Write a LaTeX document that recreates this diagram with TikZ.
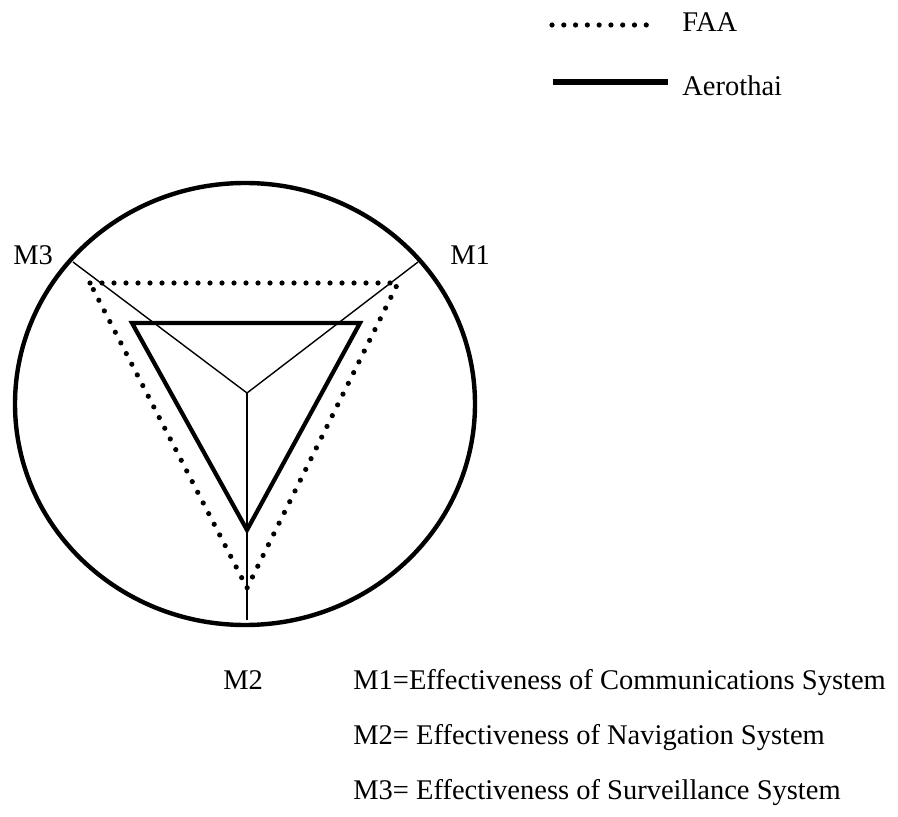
\documentclass[tikz,border=0pt]{standalone}
\usepackage{fontspec}
\setmainfont{Liberation Serif}
\begin{document}
\begin{tikzpicture}[x=0.5pt,y=-0.5pt,
  axis/.style={line width=0.7pt},
  faa/.style={line width=2.6pt, line cap=round, dash pattern=on 0pt off 6pt},
  aero/.style={line width=2.1pt, line join=miter},
  lbl/.style={inner sep=0pt, anchor=base west, font=\fontsize{14.25}{17}\selectfont}]
\useasboundingbox (0,0) rectangle (898,817);

% outer boundary
\draw[line width=2.2pt] (245,404) ellipse [x radius=115pt, y radius=110.5pt];

% axes from the hub
\coordinate (hub) at (247,393);
\coordinate (e1) at (418,262);
\coordinate (e2) at (247,620);
\coordinate (e3) at (73,262);
\draw[axis] (hub) -- (e1);
\draw[axis] (hub) -- (e2);
\draw[axis] (hub) -- (e3);

% FAA profile
\coordinate (f1) at (398,283);
\coordinate (f2) at (247,588);
\coordinate (f3) at (90,283);
\draw[faa] (f3) -- (f1) -- (f2) -- cycle;

% Aerothai profile
\coordinate (a1) at (360,323);
\coordinate (a2) at (247,530);
\coordinate (a3) at (132,323);
\draw[aero] (a3) -- (a1) -- (a2) -- cycle;

% axis labels
\node[lbl] (m3) at (13,265) {M3};
\node[lbl] (m1) at (450,265) {M1};
\node[lbl] (m2) at (223,689) {M2};

% definitions
\node[lbl] (d1) at (353,689) {M1=Effectiveness of Communications System};
\node[lbl] (d2) at (353,744) {M2= Effectiveness of Navigation System};
\node[lbl] (d3) at (353,799) {M3= Effectiveness of Surveillance System};

% legend
\coordinate (lf0) at (552,25);
\coordinate (lf1) at (658,25);
\draw[faa, dash pattern=on 0pt off 5.89pt] (lf0) -- (lf1);
\node[lbl] (faa) at (682,32) {FAA};
\coordinate (ls0) at (553,82);
\coordinate (ls1) at (668,82);
\draw[line width=2.6pt] (ls0) -- (ls1);
\node[lbl] (aero) at (682,96) {Aerothai};
\end{tikzpicture}
\end{document}
